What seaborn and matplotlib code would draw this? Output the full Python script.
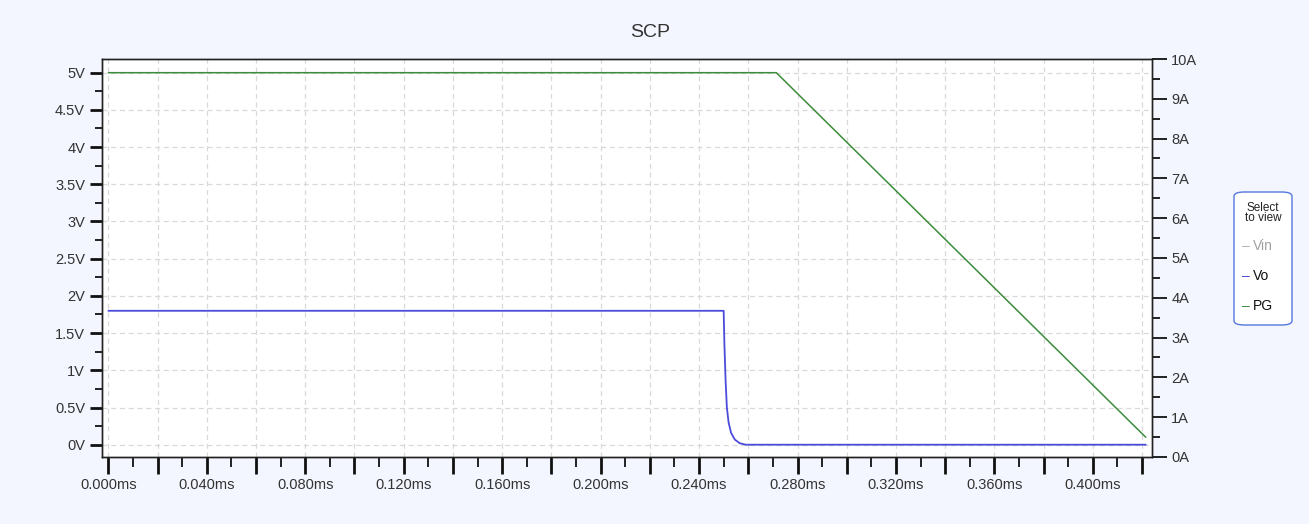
import matplotlib
matplotlib.use("Agg")
import matplotlib.pyplot as plt
from matplotlib.patches import FancyBboxPatch
from matplotlib.ticker import MultipleLocator, FuncFormatter
import seaborn as sns
import pandas as pd
import numpy as np

# --- data (time in ms, volts) ---
vo_time = [0.0, 0.2500, 0.2503, 0.2508, 0.2513, 0.2520, 0.2530, 0.2545, 0.2565, 0.2590, 0.4215]
vo_volt = [1.8, 1.8, 1.35, 0.85, 0.50, 0.30, 0.16, 0.07, 0.02, 0.0, 0.0]
pg_time = [0.0, 0.2714, 0.4215]
pg_volt = [5.0, 5.0, 0.10]

legend_items = ["Vin", "Vo", "PG"]
legend_colors = ["#b0b0b0", "#4b4bdc", "#3c8c3c"]
legend_text_colors = ["#a0a0a0", "#111111", "#111111"]

sns.set_theme(style="white")
plt.rcParams["font.family"] = ["Liberation Sans", "DejaVu Sans"]

fig = plt.figure(figsize=(13.09, 5.24), dpi=100)
fig.patch.set_facecolor("#f3f6fe")
ax = fig.add_axes([0.0777, 0.1279, 0.8023, 0.7595])
ax.set_facecolor("white")

vo = pd.DataFrame({"t": vo_time, "v": vo_volt})
pg = pd.DataFrame({"t": pg_time, "v": pg_volt})
sns.lineplot(data=vo, x="t", y="v", ax=ax, color=legend_colors[1], lw=1.3, zorder=3)
sns.lineplot(data=pg, x="t", y="v", ax=ax, color=legend_colors[2], lw=1.1, zorder=3)

ax.set_xlim(-0.0027, 0.4240)
ax.set_ylim(-0.165, 5.184)
ax.set_xlabel("")
ax.set_ylabel("")

ax.xaxis.set_major_locator(MultipleLocator(0.02))
ax.xaxis.set_minor_locator(MultipleLocator(0.01))
ax.xaxis.set_major_formatter(FuncFormatter(
    lambda x, p: f"{x:.3f}ms" if abs(round(x / 0.02)) % 2 == 0 else ""))
ax.yaxis.set_major_locator(MultipleLocator(0.5))
ax.yaxis.set_minor_locator(MultipleLocator(0.25))
ax.yaxis.set_major_formatter(FuncFormatter(lambda y, p: f"{y:g}V"))

ax.grid(True, which="major", color="#d9d9d9", ls=(0, (4, 3)), lw=0.9)
ax.tick_params(axis="x", which="major", length=12, width=2, color="#111111",
               labelsize=10.5, labelcolor="#333333", pad=3, direction="out", bottom=True)
ax.tick_params(axis="x", which="minor", length=7, width=1.3, color="#111111", bottom=True)
ax.tick_params(axis="y", which="major", length=9, width=2, color="#111111",
               labelsize=10.5, labelcolor="#333333", pad=3, left=True)
ax.tick_params(axis="y", which="minor", length=5, width=1.3, color="#111111", left=True)

for s in ax.spines.values():
    s.set_color("#222222")
    s.set_linewidth(1.0)

ax2 = ax.twinx()
ax2.set_ylim(0, 10)
ax2.yaxis.set_major_locator(MultipleLocator(1))
ax2.yaxis.set_minor_locator(MultipleLocator(0.5))
ax2.yaxis.set_major_formatter(FuncFormatter(lambda y, p: f"{y:g}A"))
ax2.tick_params(axis="y", which="major", length=11, width=1.3, color="#111111",
                labelsize=10.5, labelcolor="#333333", pad=3, right=True)
ax2.tick_params(axis="y", which="minor", length=6, width=1.3, color="#111111", right=True)
ax2.grid(False)
for s in ax2.spines.values():
    s.set_color("#222222")
    s.set_linewidth(1.0)

fig.text(0.4966, 0.938, "SCP", ha="center", va="center", fontsize=14, color="#333333")

# legend box
box = FancyBboxPatch((1234 / 1309, 1 - 325 / 524), 58 / 1309, 133 / 524,
                     boxstyle="round,pad=0,rounding_size=0.008",
                     transform=fig.transFigure, facecolor="white",
                     edgecolor="#5577dd", lw=1.0)
fig.patches.append(box)
fig.text(1263 / 1309, 1 - 213 / 524, "Select\nto view", ha="center", va="center",
         fontsize=8.5, color="#222222", linespacing=0.85)
for i, name in enumerate(legend_items):
    y = 1 - (246 + i * 30) / 524
    fig.text(1242 / 1309, y, "–", ha="left", va="center", fontsize=10,
             color=legend_colors[i])
    fig.text(1253 / 1309, y, name, ha="left", va="center", fontsize=10,
             color=legend_text_colors[i])

fig.savefig("out.png", dpi=100, facecolor=fig.get_facecolor())
